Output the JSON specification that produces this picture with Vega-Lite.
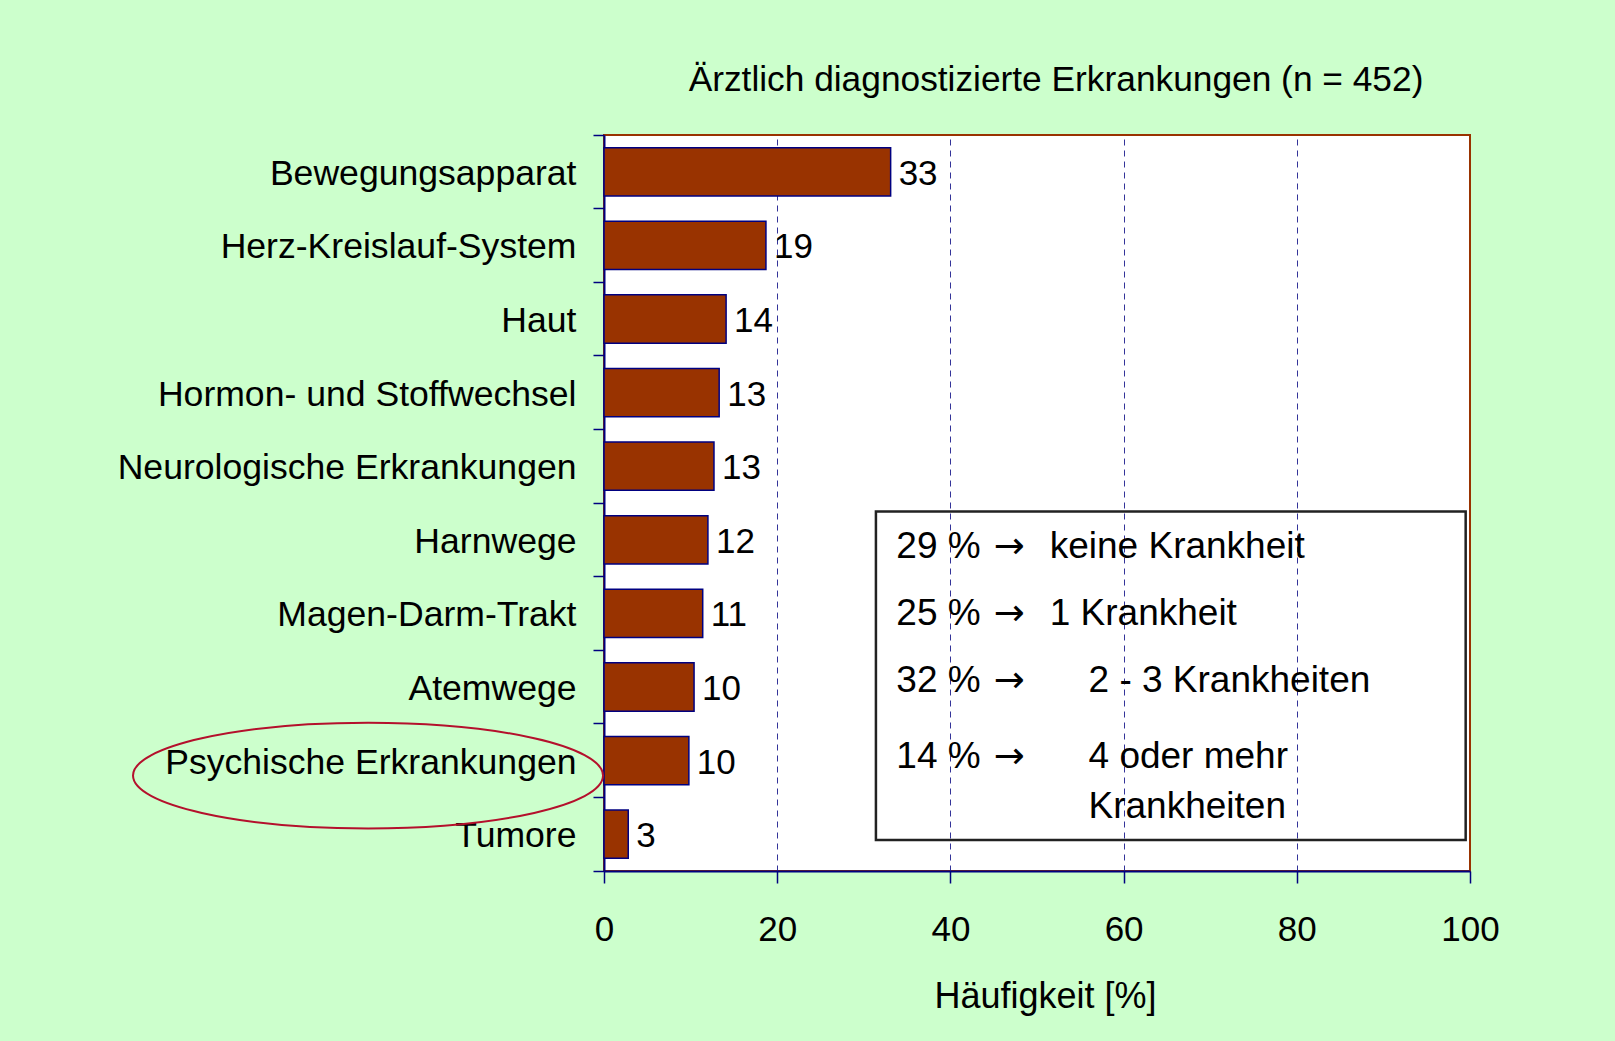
{
  "$schema": "https://vega.github.io/schema/vega-lite/v6.json",
  "width": 866,
  "height": 736,
  "autosize": {"type": "none"},
  "padding": {"left": 604, "top": 135, "right": 145, "bottom": 170},
  "background": "#CCFFCC",
  "config": {
    "font": "Liberation Sans",
    "view": {"fill": "white", "stroke": "#993300", "strokeWidth": 2}
  },
  "title": {
    "text": "Ärztlich diagnostizierte Erkrankungen (n = 452)",
    "fontSize": 35.3,
    "fontWeight": "normal",
    "color": "black",
    "anchor": "middle",
    "frame": "group",
    "dx": 19,
    "offset": 20
  },
  "datasets": {
    "erkrankungen": [
      {"kategorie": "Bewegungsapparat", "wert": 33.1},
      {"kategorie": "Herz-Kreislauf-System", "wert": 18.7},
      {"kategorie": "Haut", "wert": 14.1},
      {"kategorie": "Hormon- und Stoffwechsel", "wert": 13.3},
      {"kategorie": "Neurologische Erkrankungen", "wert": 12.7},
      {"kategorie": "Harnwege", "wert": 12.0},
      {"kategorie": "Magen-Darm-Trakt", "wert": 11.4},
      {"kategorie": "Atemwege", "wert": 10.4},
      {"kategorie": "Psychische Erkrankungen", "wert": 9.8},
      {"kategorie": "Tumore", "wert": 2.8}
    ],
    "verteilung": [
      {"nr": 1, "anteil": "29 %", "pfeil": "→", "rechts": "keine Krankheit", "eingerueckt": false},
      {"nr": 2, "anteil": "25 %", "pfeil": "→", "rechts": "1 Krankheit", "eingerueckt": false},
      {"nr": 3, "anteil": "32 %", "pfeil": "→", "rechts": "2 - 3 Krankheiten", "eingerueckt": true},
      {"nr": 4, "anteil": "14 %", "pfeil": "→", "rechts": ["4 oder mehr", "Krankheiten"], "eingerueckt": true}
    ]
  },
  "layer": [
    {
      "data": {"name": "erkrankungen"},
      "encoding": {
        "y": {
          "field": "kategorie",
          "type": "nominal",
          "sort": null,
          "scale": {"paddingInner": 0, "paddingOuter": 0},
          "axis": {
            "bandPosition": 1,
            "tickExtra": true,
            "labelOffset": 2,
            "domainColor": "#000080",
            "domainWidth": 2,
            "tickColor": "#000080",
            "tickSize": 11,
            "tickWidth": 1.5,
            "labelFontSize": 35.6,
            "labelColor": "black",
            "labelPadding": 17,
            "labelLimit": 800,
            "title": null,
            "grid": false
          }
        }
      },
      "layer": [
        {
          "mark": {"type": "bar", "fill": "#993300", "stroke": "#000080", "strokeWidth": 1.5, "height": {"band": 0.656}},
          "encoding": {
            "x": {
              "field": "wert",
              "type": "quantitative",
              "scale": {"domain": [0, 100], "nice": false},
              "axis": {
                "values": [0, 20, 40, 60, 80, 100],
                "grid": true,
                "gridColor": "#333399",
                "gridDash": [6, 5],
                "gridWidth": 1,
                "gridOpacity": {"condition": {"test": "datum.value === 0 || datum.value === 100", "value": 0}, "value": 1},
                "domainColor": "#000080",
                "domainWidth": 2,
                "tickColor": "#000080",
                "tickSize": 12,
                "tickWidth": 1.5,
                "labelFontSize": 35,
                "labelColor": "black",
                "labelPadding": 29,
                "labelFlush": false,
                "title": "Häufigkeit [%]",
                "titleFontSize": 36,
                "titleFontWeight": "normal",
                "titleColor": "black",
                "titlePadding": 32,
                "titleX": 441
              }
            }
          }
        },
        {
          "mark": {"type": "text", "align": "left", "baseline": "middle", "dx": 8, "dy": 2, "fontSize": 35, "color": "black"},
          "encoding": {
            "x": {"field": "wert", "type": "quantitative"},
            "text": {"field": "wert", "type": "quantitative", "format": ".0f"}
          }
        },
        {
          "transform": [{"filter": "datum.kategorie === 'Psychische Erkrankungen'"}],
          "mark": {
            "type": "point",
            "shape": "M-1,0.0638 C-1,-0.0603 -0.5523,-0.1609 0,-0.1609 C0.5523,-0.1609 1,-0.0603 1,0.0638 C1,0.1879 0.5523,0.2885 0,0.2885 C-0.5523,0.2885 -1,0.1879 -1,0.0638 Z",
            "size": 220900,
            "filled": false,
            "stroke": "#B4102C",
            "strokeWidth": 2,
            "opacity": 1
          },
          "encoding": {
            "x": {"datum": -27.25, "type": "quantitative"}
          }
        }
      ]
    },
    {
      "data": {"name": "verteilung"},
      "layer": [
        {
          "transform": [{"filter": "datum.nr === 1"}],
          "mark": {"type": "rect", "fillOpacity": 0, "stroke": "#222222", "strokeWidth": 2.5},
          "encoding": {
            "x": {"datum": 31.4, "type": "quantitative"},
            "x2": {"datum": 99.5},
            "y": {"datum": 0.30, "type": "quantitative", "axis": null},
            "y2": {"datum": 4.951}
          }
        },
        {
          "mark": {"type": "text", "align": "left", "baseline": "alphabetic", "fontSize": 37, "color": "black"},
          "encoding": {
            "x": {"datum": 33.76, "type": "quantitative"},
            "y": {"field": "nr", "type": "quantitative", "axis": null, "scale": {"domain": [1, 2, 3, 4], "range": [423.3, 490, 556.7, 632.7], "nice": false, "zero": false}},
            "text": {"field": "anteil", "type": "nominal"}
          }
        },
        {
          "mark": {"type": "text", "align": "left", "baseline": "alphabetic", "font": "DejaVu Sans", "fontSize": 37, "color": "black"},
          "encoding": {
            "x": {"datum": 45.0, "type": "quantitative"},
            "y": {"field": "nr", "type": "quantitative", "axis": null},
            "text": {"field": "pfeil", "type": "nominal"}
          }
        },
        {
          "transform": [{"filter": "!datum.eingerueckt"}],
          "mark": {"type": "text", "align": "left", "baseline": "alphabetic", "fontSize": 37, "color": "black"},
          "encoding": {
            "x": {"datum": 51.47, "type": "quantitative"},
            "y": {"field": "nr", "type": "quantitative", "axis": null},
            "text": {"field": "rechts", "type": "nominal"}
          }
        },
        {
          "transform": [{"filter": "datum.eingerueckt"}],
          "mark": {"type": "text", "align": "left", "baseline": "alphabetic", "fontSize": 37, "lineHeight": 50.6, "color": "black"},
          "encoding": {
            "x": {"datum": 55.95, "type": "quantitative"},
            "y": {"field": "nr", "type": "quantitative", "axis": null},
            "text": {"field": "rechts", "type": "nominal"}
          }
        }
      ]
    }
  ],
  "resolve": {"scale": {"y": "independent"}}
}
